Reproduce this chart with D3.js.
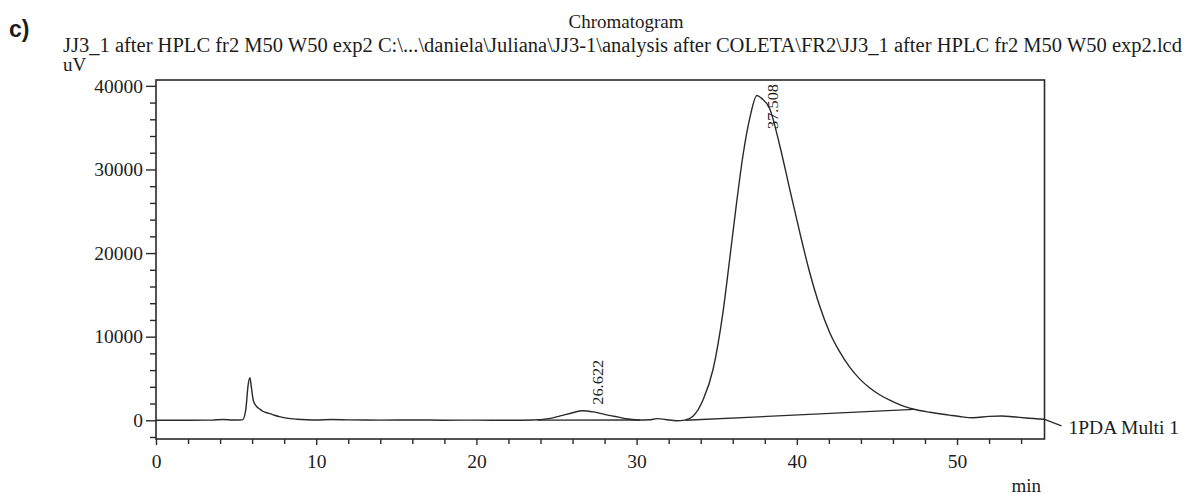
<!DOCTYPE html>
<html><head><meta charset="utf-8">
<script src="https://cdn.jsdelivr.net/npm/d3@7"></script>
<style>
body{margin:0;background:#fff}
svg{display:block}
text{font-family:"Liberation Serif","Times New Roman",serif;fill:#1c1c1c}
</style>
</head><body><svg id="c" width="1184" height="495"></svg>
<script>
// ---- data ----
const timeMin = [0,2,3.5,4.2,4.8,5.4,5.6,5.75,5.86,5.95,6.07,6.28,6.5,6.7,7.0,7.32,7.7,8.15,8.8,9.4,10,11,12,14,16,18,20,22,23.5,24.5,25.3,26,26.622,27.3,28,28.8,29.5,30.2,30.8,31.3,31.8,32.5,33,33.5,34.15,34.77,35.39,35.81,36.22,36.64,37.06,37.508,37.8,38.3,38.93,39.55,40.18,40.8,41.42,42.05,42.67,43.3,43.92,44.5,45.17,45.8,46.41,47.05,47.66,48.3,48.9,49.5,50.16,51,52,52.8,53.5,54.3,55.46];
const signalUV = [0,0,20,100,30,50,1200,4200,5100,4000,2400,1650,1300,1050,850,650,430,260,130,60,30,90,50,20,40,10,20,0,30,200,550,900,1140,1000,700,400,150,30,60,200,100,-50,20,450,2460,6070,12900,19290,25700,31700,36100,38850,38500,37300,32900,27700,22500,17700,13700,10500,8200,6350,4950,3950,3050,2400,1880,1450,1170,960,780,620,450,300,470,520,420,280,120];
const baselineA_t = [23.8, 30.2];
const baselineA_v = [20, 30];
const baselineB_t = [33.05, 47.3];
const baselineB_v = [0, 1300];
const peakTimes = [26.622, 37.508];
const peakLabels = ["26.622", "37.508"];
const xMajorTicks = [0,10,20,30,40,50];
const xMinorTicks = [2,4,6,8,12,14,16,18,22,24,26,28,32,34,36,38,42,44,46,48,52,54];
const yMajorTicks = [0,10000,20000,30000,40000];
const yMinorTicks = d3.range(-2000, 40001, 2000).filter(v => v % 10000 !== 0);
const headerText = "JJ3_1 after HPLC fr2 M50 W50 exp2 C:\\...\\daniela\\Juliana\\JJ3-1\\analysis after COLETA\\FR2\\JJ3_1 after HPLC fr2 M50 W50 exp2.lcd";
const seriesName = "1PDA Multi 1";

// ---- layout ----
const L = 156, R = 1044.5, T = 80, B = 439;
const svg = d3.select("#c");
const x = d3.scaleLinear().domain([0, 55.46]).range([L, R]);
const y = d3.scaleLinear().domain([-2240, 40700]).range([B, T]);
const ink = "#2a2a2a";

// titles
svg.append("text").attr("x", 9).attr("y", 37)
  .style("font-family", "'Liberation Sans',Arial,sans-serif").style("font-weight", "bold")
  .style("font-size", "23px").text("c)");
svg.append("text").attr("x", 626).attr("y", 28).attr("text-anchor", "middle")
  .style("font-size", "19px").text("Chromatogram");
svg.append("text").attr("x", 63).attr("y", 52).style("font-size", "20px")
  .attr("textLength", 1119).attr("lengthAdjust", "spacingAndGlyphs").text(headerText);
svg.append("text").attr("x", 63).attr("y", 71).style("font-size", "19px").text("uV");

// axes
const yMaj = d3.axisLeft(y).tickValues(yMajorTicks).tickSize(10).tickPadding(3).tickFormat(d3.format("d"));
const yMin = d3.axisLeft(y).tickValues(yMinorTicks).tickSize(6).tickFormat("");
const xMaj = d3.axisBottom(x).tickValues(xMajorTicks).tickSize(6).tickPadding(9).tickFormat(d3.format("d"));
const xMin = d3.axisBottom(x).tickValues(xMinorTicks).tickSize(5).tickFormat("");

function style(g){
  g.select(".domain").remove();
  g.selectAll("line").attr("stroke", ink).attr("stroke-width", 1.4);
  g.selectAll("text").style("font-family", "'Liberation Serif','Times New Roman',serif")
    .style("font-size", "19.5px").attr("fill", "#1c1c1c");
}
svg.append("g").attr("transform", `translate(${L},0)`).call(yMaj).call(style);
svg.append("g").attr("transform", `translate(${L},0)`).call(yMin).call(style);
svg.append("g").attr("transform", `translate(0,${B})`).call(xMaj).call(style);
svg.append("g").attr("transform", `translate(0,${B})`).call(xMin).call(style);

// frame
svg.append("rect").attr("x", L).attr("y", T).attr("width", R - L).attr("height", B - T)
  .attr("fill", "none").attr("stroke", ink).attr("stroke-width", 1.6);

// trace
const pts = timeMin.map((t, i) => [t, signalUV[i]]);
const line = d3.line().x(d => x(d[0])).y(d => y(d[1])).curve(d3.curveMonotoneX);
svg.append("path").attr("d", line(pts)).attr("fill", "none")
  .attr("stroke", ink).attr("stroke-width", 1.4);

// integration baselines
[[baselineA_t, baselineA_v], [baselineB_t, baselineB_v]].forEach(([ts, vs]) => {
  svg.append("path").attr("d", d3.line()(ts.map((t, i) => [x(t), y(vs[i])])))
    .attr("fill", "none").attr("stroke", ink).attr("stroke-width", 1.3);
});

// peak labels
peakTimes.forEach((pt, k) => {
  const i = d3.minIndex(timeMin, t => Math.abs(t - pt));
  const px = x(pt) + 21;
  const py = Math.max(y(signalUV[i]) - 6, T + 49);
  svg.append("text").attr("transform", `translate(${px},${py}) rotate(-90)`)
    .style("font-size", "15px").attr("textLength", 45).attr("lengthAdjust", "spacingAndGlyphs")
    .text(peakLabels[k]);
});

// series label with leader
const last = pts[pts.length - 1];
const lx = x(last[0]), ly = y(last[1]);
svg.append("line").attr("x1", lx).attr("y1", ly).attr("x2", lx + 17).attr("y2", ly + 6.5)
  .attr("stroke", ink).attr("stroke-width", 1.3);
svg.append("text").attr("x", lx + 24).attr("y", ly + 14.5).style("font-size", "19.5px").text(seriesName);

// x unit
svg.append("text").attr("x", 1041).attr("y", 492).attr("text-anchor", "end")
  .style("font-size", "19px").text("min");
</script>
</body></html>
